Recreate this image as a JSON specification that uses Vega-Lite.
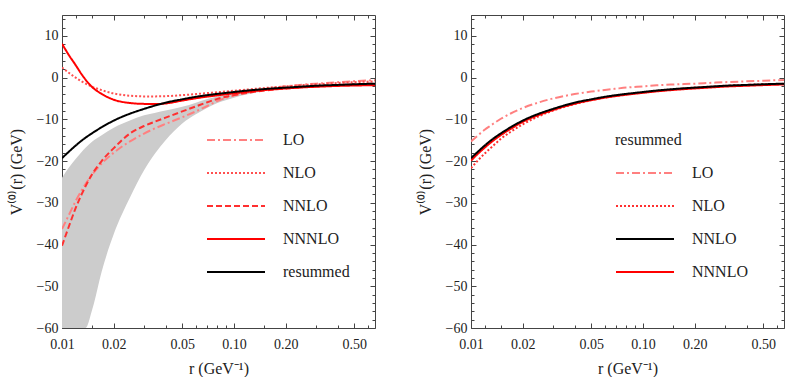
{
"$schema":"https://vega.github.io/schema/vega-lite/v6.json",
"padding":{"left":7,"top":14,"right":0,"bottom":0},
"spacing":40,
"resolve":{"scale":{"color":"independent","strokeDash":"independent","strokeWidth":"independent"},"legend":{"color":"independent","strokeDash":"independent","strokeWidth":"independent"}},
"config":{
 "view":{"stroke":"#444","strokeWidth":1},
 "axis":{"labelFont":"Liberation Serif","labelFontSize":14,"labelColor":"#222","titleFont":"Liberation Serif","titleFontSize":16,"titleFontWeight":"normal","titleColor":"#222","tickColor":"#444","tickWidth":1,"domain":false,"grid":false,"labelFlush":false,"labelOverlap":false},
 "legend":{"orient":"none","symbolType":"stroke","symbolSize":3364,"clipHeight":20,"rowPadding":13,"labelOffset":17,"labelFont":"Liberation Serif","labelFontSize":16,"labelColor":"#222","padding":0,"symbolOffset":0,"titleFont":"Liberation Serif","titleFontSize":16,"titleFontWeight":"normal","titleColor":"#222","titlePadding":15,"labelLimit":200}
},
"datasets":{
 "band":[
  {"r":0.01,"hi":-24.0,"lo":-60},{"r":0.011,"hi":-21.5,"lo":-60},{"r":0.012,"hi":-19.5,"lo":-60},{"r":0.013,"hi":-17.8,"lo":-60},{"r":0.0137,"hi":-16.8,"lo":-60},{"r":0.015,"hi":-15.3,"lo":-55.5},{"r":0.017,"hi":-13.8,"lo":-46.5},{"r":0.02,"hi":-12.0,"lo":-37.5},{"r":0.025,"hi":-10.2,"lo":-28.5},{"r":0.03,"hi":-9.0,"lo":-22.2},{"r":0.035,"hi":-8.4,"lo":-18.0},{"r":0.04,"hi":-7.9,"lo":-15.0},{"r":0.05,"hi":-7.0,"lo":-11.0},{"r":0.06,"hi":-6.0,"lo":-8.8},{"r":0.07,"hi":-5.1,"lo":-7.2},{"r":0.08,"hi":-4.5,"lo":-6.1},{"r":0.1,"hi":-3.9,"lo":-4.8},{"r":0.12,"hi":-3.4,"lo":-4.0},{"r":0.15,"hi":-2.95,"lo":-3.2},{"r":0.2,"hi":-2.5,"lo":-2.6}
 ],
 "left":[
  {"s":"LO","r":0.01,"v":-36.3},{"s":"LO","r":0.011,"v":-32.8},{"s":"LO","r":0.012,"v":-29.6},{"s":"LO","r":0.013,"v":-27.0},{"s":"LO","r":0.015,"v":-23.2},{"s":"LO","r":0.017,"v":-20.6},{"s":"LO","r":0.02,"v":-18.0},{"s":"LO","r":0.025,"v":-15.2},{"s":"LO","r":0.03,"v":-13.4},{"s":"LO","r":0.035,"v":-12.1},{"s":"LO","r":0.04,"v":-11.1},{"s":"LO","r":0.05,"v":-9.5},{"s":"LO","r":0.06,"v":-8.1},{"s":"LO","r":0.07,"v":-6.8},{"s":"LO","r":0.08,"v":-5.6},{"s":"LO","r":0.1,"v":-4.3},{"s":"LO","r":0.12,"v":-3.5},{"s":"LO","r":0.15,"v":-2.75},{"s":"LO","r":0.2,"v":-2.1},{"s":"LO","r":0.25,"v":-1.7},{"s":"LO","r":0.3,"v":-1.45},{"s":"LO","r":0.4,"v":-1.1},{"s":"LO","r":0.5,"v":-0.85},{"s":"LO","r":0.66,"v":-0.6},
  {"s":"NLO","r":0.01,"v":2.4},{"s":"NLO","r":0.011,"v":1.1},{"s":"NLO","r":0.012,"v":0.0},{"s":"NLO","r":0.013,"v":-0.9},{"s":"NLO","r":0.015,"v":-2.2},{"s":"NLO","r":0.017,"v":-3.0},{"s":"NLO","r":0.02,"v":-3.8},{"s":"NLO","r":0.025,"v":-4.35},{"s":"NLO","r":0.03,"v":-4.5},{"s":"NLO","r":0.035,"v":-4.5},{"s":"NLO","r":0.04,"v":-4.45},{"s":"NLO","r":0.05,"v":-4.2},{"s":"NLO","r":0.06,"v":-3.95},{"s":"NLO","r":0.07,"v":-3.7},{"s":"NLO","r":0.08,"v":-3.5},{"s":"NLO","r":0.1,"v":-3.15},{"s":"NLO","r":0.12,"v":-2.85},{"s":"NLO","r":0.15,"v":-2.5},{"s":"NLO","r":0.2,"v":-2.1},{"s":"NLO","r":0.25,"v":-1.8},{"s":"NLO","r":0.3,"v":-1.6},{"s":"NLO","r":0.4,"v":-1.3},{"s":"NLO","r":0.5,"v":-1.1},{"s":"NLO","r":0.66,"v":-0.9},
  {"s":"NNLO","r":0.01,"v":-40.3},{"s":"NNLO","r":0.011,"v":-35.5},{"s":"NNLO","r":0.012,"v":-31.3},{"s":"NNLO","r":0.013,"v":-28.0},{"s":"NNLO","r":0.015,"v":-23.1},{"s":"NNLO","r":0.017,"v":-20.0},{"s":"NNLO","r":0.02,"v":-16.9},{"s":"NNLO","r":0.025,"v":-13.3},{"s":"NNLO","r":0.03,"v":-11.6},{"s":"NNLO","r":0.035,"v":-10.5},{"s":"NNLO","r":0.04,"v":-9.6},{"s":"NNLO","r":0.05,"v":-8.1},{"s":"NNLO","r":0.06,"v":-6.9},{"s":"NNLO","r":0.07,"v":-5.9},{"s":"NNLO","r":0.08,"v":-5.1},{"s":"NNLO","r":0.1,"v":-4.2},{"s":"NNLO","r":0.12,"v":-3.65},{"s":"NNLO","r":0.15,"v":-3.1},{"s":"NNLO","r":0.2,"v":-2.6},{"s":"NNLO","r":0.25,"v":-2.3},{"s":"NNLO","r":0.3,"v":-2.1},{"s":"NNLO","r":0.4,"v":-1.8},{"s":"NNLO","r":0.5,"v":-1.6},{"s":"NNLO","r":0.66,"v":-1.45},
  {"s":"NNNLO","r":0.01,"v":8.1},{"s":"NNNLO","r":0.011,"v":5.3},{"s":"NNNLO","r":0.012,"v":3.0},{"s":"NNNLO","r":0.013,"v":0.8},{"s":"NNNLO","r":0.015,"v":-2.3},{"s":"NNNLO","r":0.017,"v":-3.9},{"s":"NNNLO","r":0.02,"v":-5.3},{"s":"NNNLO","r":0.025,"v":-6.1},{"s":"NNNLO","r":0.03,"v":-6.3},{"s":"NNNLO","r":0.035,"v":-6.35},{"s":"NNNLO","r":0.04,"v":-6.2},{"s":"NNNLO","r":0.05,"v":-5.5},{"s":"NNNLO","r":0.06,"v":-4.95},{"s":"NNNLO","r":0.07,"v":-4.55},{"s":"NNNLO","r":0.08,"v":-4.25},{"s":"NNNLO","r":0.1,"v":-3.75},{"s":"NNNLO","r":0.12,"v":-3.4},{"s":"NNNLO","r":0.15,"v":-3.0},{"s":"NNNLO","r":0.2,"v":-2.6},{"s":"NNNLO","r":0.25,"v":-2.35},{"s":"NNNLO","r":0.3,"v":-2.2},{"s":"NNNLO","r":0.4,"v":-2.0},{"s":"NNNLO","r":0.5,"v":-1.9},{"s":"NNNLO","r":0.66,"v":-1.8},
  {"s":"resummed","r":0.01,"v":-19.3},{"s":"resummed","r":0.011,"v":-17.7},{"s":"resummed","r":0.012,"v":-16.3},{"s":"resummed","r":0.013,"v":-15.1},{"s":"resummed","r":0.015,"v":-13.3},{"s":"resummed","r":0.017,"v":-11.9},{"s":"resummed","r":0.02,"v":-10.3},{"s":"resummed","r":0.025,"v":-8.6},{"s":"resummed","r":0.03,"v":-7.5},{"s":"resummed","r":0.035,"v":-6.65},{"s":"resummed","r":0.04,"v":-6.0},{"s":"resummed","r":0.05,"v":-5.2},{"s":"resummed","r":0.06,"v":-4.6},{"s":"resummed","r":0.07,"v":-4.2},{"s":"resummed","r":0.08,"v":-3.9},{"s":"resummed","r":0.1,"v":-3.45},{"s":"resummed","r":0.12,"v":-3.1},{"s":"resummed","r":0.15,"v":-2.75},{"s":"resummed","r":0.2,"v":-2.4},{"s":"resummed","r":0.25,"v":-2.15},{"s":"resummed","r":0.3,"v":-1.95},{"s":"resummed","r":0.4,"v":-1.75},{"s":"resummed","r":0.5,"v":-1.6},{"s":"resummed","r":0.66,"v":-1.45}
 ],
 "right":[
  {"s":"LO","r":0.01,"v":-15.3},{"s":"LO","r":0.011,"v":-13.8},{"s":"LO","r":0.012,"v":-12.5},{"s":"LO","r":0.013,"v":-11.5},{"s":"LO","r":0.015,"v":-9.8},{"s":"LO","r":0.017,"v":-8.6},{"s":"LO","r":0.02,"v":-7.3},{"s":"LO","r":0.025,"v":-5.9},{"s":"LO","r":0.03,"v":-5.0},{"s":"LO","r":0.035,"v":-4.4},{"s":"LO","r":0.04,"v":-3.95},{"s":"LO","r":0.05,"v":-3.35},{"s":"LO","r":0.06,"v":-2.95},{"s":"LO","r":0.07,"v":-2.65},{"s":"LO","r":0.08,"v":-2.4},{"s":"LO","r":0.1,"v":-2.1},{"s":"LO","r":0.12,"v":-1.85},{"s":"LO","r":0.15,"v":-1.65},{"s":"LO","r":0.2,"v":-1.45},{"s":"LO","r":0.25,"v":-1.25},{"s":"LO","r":0.3,"v":-1.1},{"s":"LO","r":0.4,"v":-0.9},{"s":"LO","r":0.5,"v":-0.75},{"s":"LO","r":0.66,"v":-0.55},
  {"s":"NLO","r":0.01,"v":-21.7},{"s":"NLO","r":0.011,"v":-19.8},{"s":"NLO","r":0.012,"v":-18.2},{"s":"NLO","r":0.013,"v":-16.9},{"s":"NLO","r":0.015,"v":-14.6},{"s":"NLO","r":0.017,"v":-13.0},{"s":"NLO","r":0.02,"v":-11.2},{"s":"NLO","r":0.025,"v":-9.2},{"s":"NLO","r":0.03,"v":-7.9},{"s":"NLO","r":0.035,"v":-7.0},{"s":"NLO","r":0.04,"v":-6.35},{"s":"NLO","r":0.05,"v":-5.45},{"s":"NLO","r":0.06,"v":-4.8},{"s":"NLO","r":0.07,"v":-4.35},{"s":"NLO","r":0.08,"v":-4.0},{"s":"NLO","r":0.1,"v":-3.55},{"s":"NLO","r":0.12,"v":-3.2},{"s":"NLO","r":0.15,"v":-2.8},{"s":"NLO","r":0.2,"v":-2.4},{"s":"NLO","r":0.25,"v":-2.15},{"s":"NLO","r":0.3,"v":-1.95},{"s":"NLO","r":0.4,"v":-1.75},{"s":"NLO","r":0.5,"v":-1.6},{"s":"NLO","r":0.66,"v":-1.5},
  {"s":"NNNLO","r":0.01,"v":-19.9},{"s":"NNNLO","r":0.011,"v":-18.2},{"s":"NNNLO","r":0.012,"v":-16.8},{"s":"NNNLO","r":0.013,"v":-15.6},{"s":"NNNLO","r":0.015,"v":-13.7},{"s":"NNNLO","r":0.017,"v":-12.3},{"s":"NNNLO","r":0.02,"v":-10.6},{"s":"NNNLO","r":0.025,"v":-8.9},{"s":"NNNLO","r":0.03,"v":-7.75},{"s":"NNNLO","r":0.035,"v":-6.9},{"s":"NNNLO","r":0.04,"v":-6.25},{"s":"NNNLO","r":0.05,"v":-5.4},{"s":"NNNLO","r":0.06,"v":-4.8},{"s":"NNNLO","r":0.07,"v":-4.4},{"s":"NNNLO","r":0.08,"v":-4.1},{"s":"NNNLO","r":0.1,"v":-3.65},{"s":"NNNLO","r":0.12,"v":-3.3},{"s":"NNNLO","r":0.15,"v":-2.95},{"s":"NNNLO","r":0.2,"v":-2.6},{"s":"NNNLO","r":0.25,"v":-2.35},{"s":"NNNLO","r":0.3,"v":-2.15},{"s":"NNNLO","r":0.4,"v":-1.95},{"s":"NNNLO","r":0.5,"v":-1.8},{"s":"NNNLO","r":0.66,"v":-1.65},
  {"s":"NNLO","r":0.01,"v":-19.3},{"s":"NNLO","r":0.011,"v":-17.7},{"s":"NNLO","r":0.012,"v":-16.3},{"s":"NNLO","r":0.013,"v":-15.1},{"s":"NNLO","r":0.015,"v":-13.3},{"s":"NNLO","r":0.017,"v":-11.9},{"s":"NNLO","r":0.02,"v":-10.3},{"s":"NNLO","r":0.025,"v":-8.6},{"s":"NNLO","r":0.03,"v":-7.5},{"s":"NNLO","r":0.035,"v":-6.65},{"s":"NNLO","r":0.04,"v":-6.0},{"s":"NNLO","r":0.05,"v":-5.2},{"s":"NNLO","r":0.06,"v":-4.6},{"s":"NNLO","r":0.07,"v":-4.2},{"s":"NNLO","r":0.08,"v":-3.9},{"s":"NNLO","r":0.1,"v":-3.45},{"s":"NNLO","r":0.12,"v":-3.1},{"s":"NNLO","r":0.15,"v":-2.75},{"s":"NNLO","r":0.2,"v":-2.4},{"s":"NNLO","r":0.25,"v":-2.15},{"s":"NNLO","r":0.3,"v":-1.95},{"s":"NNLO","r":0.4,"v":-1.75},{"s":"NNLO","r":0.5,"v":-1.6},{"s":"NNLO","r":0.66,"v":-1.45}
 ]
},
"hconcat":[
 {
  "width":313,"height":313,
  "resolve":{"axis":{"x":"independent","y":"independent"}},
  "layer":[
   {"data":{"name":"band"},
    "mark":{"type":"area","color":"#cccccc","interpolate":"monotone","clip":true},
    "encoding":{
     "x":{"field":"r","type":"quantitative","scale":{"type":"log","domain":[0.01,0.66],"nice":false},
          "axis":{"orient":"bottom","values":[0.01,0.02,0.05,0.1,0.2,0.5],"format":".2f","tickSize":-5,"labelPadding":14,"title":"r (GeV⁻¹)","titlePadding":9}},
     "y":{"field":"hi","type":"quantitative","scale":{"domain":[-60,15],"nice":false,"zero":false},
          "axis":{"orient":"left","values":[-60,-50,-40,-30,-20,-10,0,10],"tickSize":-5,"labelPadding":9,"title":"V⁽⁰⁾(r) (GeV)","titlePadding":12}},
     "y2":{"field":"lo"}
    }},
   {"data":{"name":"left"},
    "transform":[{"filter":"datum.s == 'LO' || datum.s == 'NLO'"}],
    "mark":{"type":"line","interpolate":"monotone","clip":true},
    "encoding":{
     "x":{"field":"r","type":"quantitative","scale":{"type":"log","domain":[0.01,0.66],"nice":false},
          "axis":{"orient":"bottom","values":[0.012,0.015,0.03,0.04,0.06,0.07,0.08,0.09,0.15,0.3,0.4,0.6],"labels":false,"tickSize":-3,"title":null}},
     "y":{"field":"v","type":"quantitative","scale":{"domain":[-60,15],"nice":false,"zero":false},
          "axis":{"orient":"left","values":[-58,-56,-54,-52,-48,-46,-44,-42,-38,-36,-34,-32,-28,-26,-24,-22,-18,-16,-14,-12,-8,-6,-4,-2,2,4,6,8,12,14],"labels":false,"tickSize":-3,"title":null}},
     "color":{"field":"s","type":"nominal","scale":{"domain":["LO","NLO","NNLO","NNNLO","resummed"],"range":["#ff8080","#ff5050","#ff3030","#ff0000","#000000"]},"legend":{"title":null,"legendX":144,"legendY":115}},
     "strokeDash":{"field":"s","type":"nominal","scale":{"domain":["LO","NLO","NNLO","NNNLO","resummed"],"range":[[8,3,2,3],[2,2],[6,3],[1,0],[1,0]]},"legend":{"title":null,"legendX":144,"legendY":115}},
     "strokeWidth":{"field":"s","type":"nominal","scale":{"domain":["LO","NLO","NNLO","NNNLO","resummed"],"range":[2,2,2,2,3]},"legend":{"title":null,"legendX":144,"legendY":115}}
    }},
   {"data":{"name":"left"},
    "transform":[{"filter":"datum.s == 'NNLO'"}],
    "mark":{"type":"line","interpolate":"monotone","clip":true},
    "encoding":{
     "x":{"field":"r","type":"quantitative","scale":{"type":"log","domain":[0.01,0.66],"nice":false},
          "axis":{"orient":"top","values":[0.01,0.02,0.05,0.1,0.2,0.5],"labels":false,"tickSize":-5,"title":null}},
     "y":{"field":"v","type":"quantitative","scale":{"domain":[-60,15],"nice":false,"zero":false},
          "axis":{"orient":"right","values":[-60,-50,-40,-30,-20,-10,0,10],"labels":false,"tickSize":-5,"title":null}},
     "color":{"field":"s","type":"nominal","scale":{"domain":["LO","NLO","NNLO","NNNLO","resummed"],"range":["#ff8080","#ff5050","#ff3030","#ff0000","#000000"]},"legend":{"title":null,"legendX":144,"legendY":115}},
     "strokeDash":{"field":"s","type":"nominal","scale":{"domain":["LO","NLO","NNLO","NNNLO","resummed"],"range":[[8,3,2,3],[2,2],[6,3],[1,0],[1,0]]},"legend":{"title":null,"legendX":144,"legendY":115}},
     "strokeWidth":{"field":"s","type":"nominal","scale":{"domain":["LO","NLO","NNLO","NNNLO","resummed"],"range":[2,2,2,2,3]},"legend":{"title":null,"legendX":144,"legendY":115}}
    }},
   {"data":{"name":"left"},
    "transform":[{"filter":"datum.s == 'NNNLO' || datum.s == 'resummed'"}],
    "mark":{"type":"line","interpolate":"monotone","clip":true},
    "encoding":{
     "x":{"field":"r","type":"quantitative","scale":{"type":"log","domain":[0.01,0.66],"nice":false},
          "axis":{"orient":"top","values":[0.012,0.015,0.03,0.04,0.06,0.07,0.08,0.09,0.15,0.3,0.4,0.6],"labels":false,"tickSize":-3,"title":null}},
     "y":{"field":"v","type":"quantitative","scale":{"domain":[-60,15],"nice":false,"zero":false},
          "axis":{"orient":"right","values":[-58,-56,-54,-52,-48,-46,-44,-42,-38,-36,-34,-32,-28,-26,-24,-22,-18,-16,-14,-12,-8,-6,-4,-2,2,4,6,8,12,14],"labels":false,"tickSize":-3,"title":null}},
     "color":{"field":"s","type":"nominal","scale":{"domain":["LO","NLO","NNLO","NNNLO","resummed"],"range":["#ff8080","#ff5050","#ff3030","#ff0000","#000000"]},"legend":{"title":null,"legendX":144,"legendY":115}},
     "strokeDash":{"field":"s","type":"nominal","scale":{"domain":["LO","NLO","NNLO","NNNLO","resummed"],"range":[[8,3,2,3],[2,2],[6,3],[1,0],[1,0]]},"legend":{"title":null,"legendX":144,"legendY":115}},
     "strokeWidth":{"field":"s","type":"nominal","scale":{"domain":["LO","NLO","NNLO","NNNLO","resummed"],"range":[2,2,2,2,3]},"legend":{"title":null,"legendX":144,"legendY":115}}
    }}
  ]
 },
 {
  "width":313,"height":313,
  "data":{"name":"right"},
  "resolve":{"axis":{"x":"independent","y":"independent"}},
  "layer":[
   {"transform":[{"filter":"datum.s == 'LO'"}],
    "mark":{"type":"line","interpolate":"monotone","clip":true},
    "encoding":{
     "x":{"field":"r","type":"quantitative","scale":{"type":"log","domain":[0.01,0.66],"nice":false},
          "axis":{"orient":"bottom","values":[0.01,0.02,0.05,0.1,0.2,0.5],"format":".2f","tickSize":-5,"labelPadding":14,"title":"r (GeV⁻¹)","titlePadding":9}},
     "y":{"field":"v","type":"quantitative","scale":{"domain":[-60,15],"nice":false,"zero":false},
          "axis":{"orient":"left","values":[-60,-50,-40,-30,-20,-10,0,10],"tickSize":-5,"labelPadding":9,"title":"V⁽⁰⁾(r) (GeV)","titlePadding":12}},
     "color":{"field":"s","type":"nominal","scale":{"domain":["LO","NLO","NNLO","NNNLO"],"range":["#ff8080","#ff3030","#000000","#ff0000"]},"legend":{"title":"resummed","legendX":144,"legendY":117}},
     "strokeDash":{"field":"s","type":"nominal","scale":{"domain":["LO","NLO","NNLO","NNNLO"],"range":[[8,3,2,3],[2,2],[1,0],[1,0]]},"legend":{"title":"resummed","legendX":144,"legendY":117}},
     "strokeWidth":{"field":"s","type":"nominal","scale":{"domain":["LO","NLO","NNLO","NNNLO"],"range":[2,2,3,2]},"legend":{"title":"resummed","legendX":144,"legendY":117}}
    }},
   {"transform":[{"filter":"datum.s == 'NLO'"}],
    "mark":{"type":"line","interpolate":"monotone","clip":true},
    "encoding":{
     "x":{"field":"r","type":"quantitative","scale":{"type":"log","domain":[0.01,0.66],"nice":false},
          "axis":{"orient":"bottom","values":[0.012,0.015,0.03,0.04,0.06,0.07,0.08,0.09,0.15,0.3,0.4,0.6],"labels":false,"tickSize":-3,"title":null}},
     "y":{"field":"v","type":"quantitative","scale":{"domain":[-60,15],"nice":false,"zero":false},
          "axis":{"orient":"left","values":[-58,-56,-54,-52,-48,-46,-44,-42,-38,-36,-34,-32,-28,-26,-24,-22,-18,-16,-14,-12,-8,-6,-4,-2,2,4,6,8,12,14],"labels":false,"tickSize":-3,"title":null}},
     "color":{"field":"s","type":"nominal","scale":{"domain":["LO","NLO","NNLO","NNNLO"],"range":["#ff8080","#ff3030","#000000","#ff0000"]},"legend":{"title":"resummed","legendX":144,"legendY":117}},
     "strokeDash":{"field":"s","type":"nominal","scale":{"domain":["LO","NLO","NNLO","NNNLO"],"range":[[8,3,2,3],[2,2],[1,0],[1,0]]},"legend":{"title":"resummed","legendX":144,"legendY":117}},
     "strokeWidth":{"field":"s","type":"nominal","scale":{"domain":["LO","NLO","NNLO","NNNLO"],"range":[2,2,3,2]},"legend":{"title":"resummed","legendX":144,"legendY":117}}
    }},
   {"transform":[{"filter":"datum.s == 'NNNLO'"}],
    "mark":{"type":"line","interpolate":"monotone","clip":true},
    "encoding":{
     "x":{"field":"r","type":"quantitative","scale":{"type":"log","domain":[0.01,0.66],"nice":false},
          "axis":{"orient":"top","values":[0.01,0.02,0.05,0.1,0.2,0.5],"labels":false,"tickSize":-5,"title":null}},
     "y":{"field":"v","type":"quantitative","scale":{"domain":[-60,15],"nice":false,"zero":false},
          "axis":{"orient":"right","values":[-60,-50,-40,-30,-20,-10,0,10],"labels":false,"tickSize":-5,"title":null}},
     "color":{"field":"s","type":"nominal","scale":{"domain":["LO","NLO","NNLO","NNNLO"],"range":["#ff8080","#ff3030","#000000","#ff0000"]},"legend":{"title":"resummed","legendX":144,"legendY":117}},
     "strokeDash":{"field":"s","type":"nominal","scale":{"domain":["LO","NLO","NNLO","NNNLO"],"range":[[8,3,2,3],[2,2],[1,0],[1,0]]},"legend":{"title":"resummed","legendX":144,"legendY":117}},
     "strokeWidth":{"field":"s","type":"nominal","scale":{"domain":["LO","NLO","NNLO","NNNLO"],"range":[2,2,3,2]},"legend":{"title":"resummed","legendX":144,"legendY":117}}
    }},
   {"transform":[{"filter":"datum.s == 'NNLO'"}],
    "mark":{"type":"line","interpolate":"monotone","clip":true},
    "encoding":{
     "x":{"field":"r","type":"quantitative","scale":{"type":"log","domain":[0.01,0.66],"nice":false},
          "axis":{"orient":"top","values":[0.012,0.015,0.03,0.04,0.06,0.07,0.08,0.09,0.15,0.3,0.4,0.6],"labels":false,"tickSize":-3,"title":null}},
     "y":{"field":"v","type":"quantitative","scale":{"domain":[-60,15],"nice":false,"zero":false},
          "axis":{"orient":"right","values":[-58,-56,-54,-52,-48,-46,-44,-42,-38,-36,-34,-32,-28,-26,-24,-22,-18,-16,-14,-12,-8,-6,-4,-2,2,4,6,8,12,14],"labels":false,"tickSize":-3,"title":null}},
     "color":{"field":"s","type":"nominal","scale":{"domain":["LO","NLO","NNLO","NNNLO"],"range":["#ff8080","#ff3030","#000000","#ff0000"]},"legend":{"title":"resummed","legendX":144,"legendY":117}},
     "strokeDash":{"field":"s","type":"nominal","scale":{"domain":["LO","NLO","NNLO","NNNLO"],"range":[[8,3,2,3],[2,2],[1,0],[1,0]]},"legend":{"title":"resummed","legendX":144,"legendY":117}},
     "strokeWidth":{"field":"s","type":"nominal","scale":{"domain":["LO","NLO","NNLO","NNNLO"],"range":[2,2,3,2]},"legend":{"title":"resummed","legendX":144,"legendY":117}}
    }}
  ]
 }
]
}
